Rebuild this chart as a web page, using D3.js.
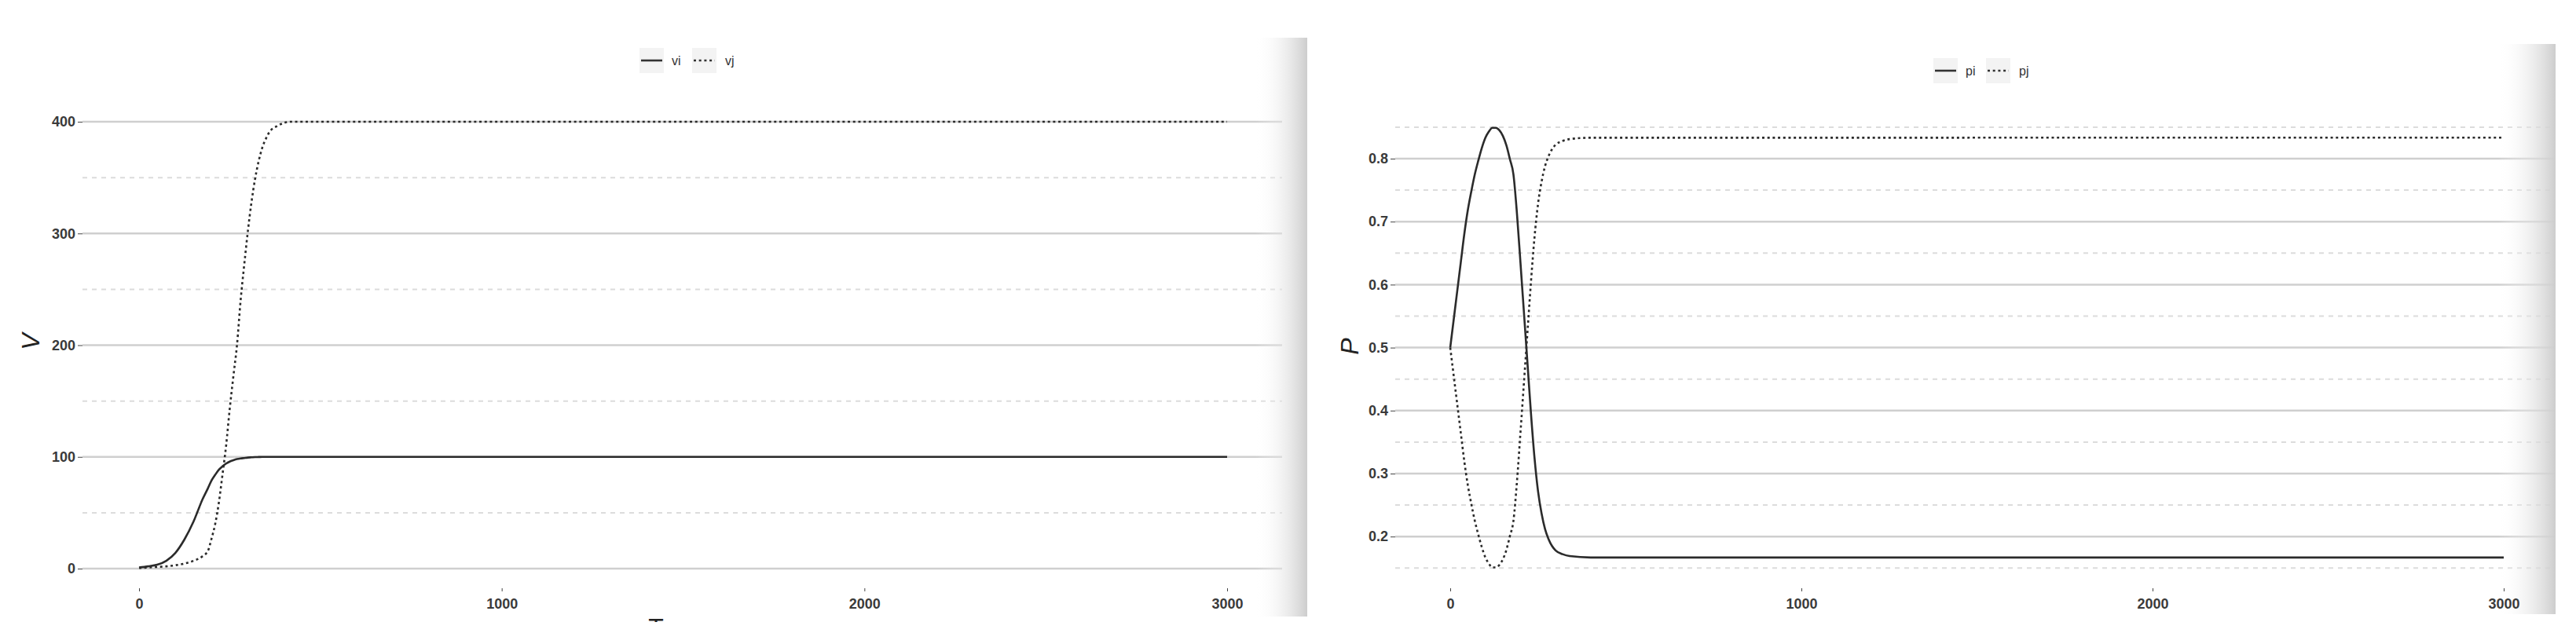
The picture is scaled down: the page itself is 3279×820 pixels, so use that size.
<!DOCTYPE html>
<html>
<head>
<meta charset="utf-8">
<script src="https://cdn.jsdelivr.net/npm/d3@7"></script>
<style>
  body { margin: 0; background: #fff; }
  svg { display: block; font-family: "Liberation Sans", Arial, sans-serif; }
  .tick text { fill: #3a3a3a; font-weight: bold; }
  .tick line { stroke: #444; }
</style>
</head>
<body>
<script>

// left panel: V over time
var timeV = [0, 25, 50, 75, 100, 125, 150, 175, 190, 200, 210, 220, 230, 240, 250, 260,
             270, 280, 290, 300, 310, 320, 330, 340, 350, 360, 380, 400, 420, 500, 3000];
var vi = [1, 2, 3.5, 7, 14, 26, 42, 62, 72, 79, 84, 88.5, 91.5, 94, 95.8, 97,
          98, 98.6, 99, 99.4, 99.6, 99.8, 99.9, 100, 100, 100, 100, 100, 100, 100, 100];
var vj = [0.5, 1, 1.5, 2, 3, 4.5, 7, 11, 16, 27, 40, 59, 84, 110, 143, 172,
          200, 240, 272, 302, 328, 349, 365, 377, 385, 391, 396, 399, 400, 400, 400];

// right panel: P over time
var timeP = [0, 10, 20, 30, 40, 50, 60, 70, 80, 90, 100, 110, 120, 130, 140, 150,
             160, 170, 180, 190, 200, 210, 220, 230, 240, 250, 260, 270, 280, 290, 300,
             320, 340, 400, 3000];
var pi = [0.500, 0.545, 0.590, 0.635, 0.680, 0.718, 0.748, 0.775, 0.797, 0.817, 0.833,
          0.843, 0.849, 0.849, 0.845, 0.836, 0.821, 0.799, 0.775, 0.713, 0.635, 0.555,
          0.475, 0.395, 0.325, 0.272, 0.237, 0.212, 0.196, 0.185, 0.178,
          0.172, 0.169, 0.1668, 0.1667];
var pj = [0.500, 0.455, 0.410, 0.365, 0.320, 0.282, 0.252, 0.225, 0.203, 0.183, 0.167,
          0.157, 0.151, 0.151, 0.155, 0.164, 0.179, 0.201, 0.225, 0.287, 0.365, 0.445,
          0.525, 0.605, 0.675, 0.728, 0.763, 0.788, 0.804, 0.815, 0.822,
          0.828, 0.831, 0.8332, 0.8333];

var xTicks = [0, 1000, 2000, 3000];
var vTicks = [0, 100, 200, 300, 400];
var vMinor = [50, 150, 250, 350];
var pTicks = [0.2, 0.3, 0.4, 0.5, 0.6, 0.7, 0.8];
var pMinor = [0.15, 0.25, 0.35, 0.45, 0.55, 0.65, 0.75, 0.85];

var svg = d3.select("body").append("svg")
  .attr("width", 3279)
  .attr("height", 820);

svg.append("rect").attr("width", 3279).attr("height", 820).attr("fill", "#fff");

var defs = svg.append("defs");
var grad = defs.append("linearGradient").attr("id", "shade");
grad.append("stop").attr("offset", "0%").attr("stop-color", "#fff").attr("stop-opacity", 0);
grad.append("stop").attr("offset", "100%").attr("stop-color", "#cdcdcd").attr("stop-opacity", 1);

function drawPanel(p) {

  var g = svg.append("g").attr("clip-path", "url(#" + p.id + "-clip)");
  defs.append("clipPath").attr("id", p.id + "-clip")
    .append("rect")
    .attr("x", p.clip[0]).attr("y", 0)
    .attr("width", p.clip[1] - p.clip[0]).attr("height", p.clip[2]);

  var x = d3.scaleLinear().domain([0, 3000]).range(p.xRange);
  var y = d3.scaleLinear().domain(p.yDomain).range(p.yRange);

  // gridlines: major solid, minor dashed
  g.append("g").selectAll("line").data(p.minor).enter().append("line")
    .attr("x1", p.grid[0]).attr("x2", p.grid[1])
    .attr("y1", y).attr("y2", y)
    .attr("stroke", "#dcdcdc").attr("stroke-width", 2)
    .attr("stroke-dasharray", "6,6");

  g.append("g").selectAll("line").data(p.major).enter().append("line")
    .attr("x1", p.grid[0]).attr("x2", p.grid[1])
    .attr("y1", y).attr("y2", y)
    .attr("stroke", "#cfcfcf").attr("stroke-width", 2.5);

  // right-edge shadow of the scanned page
  g.append("rect")
    .attr("x", p.shade[0]).attr("y", p.shade[2])
    .attr("width", p.shade[1] - p.shade[0]).attr("height", p.shade[3] - p.shade[2])
    .attr("fill", "url(#shade)");

  var yAxis = d3.axisLeft(y)
    .tickValues(p.major)
    .tickSize(6)
    .tickPadding(3)
    .tickFormat(p.fmt);

  g.append("g")
    .attr("class", "y axis")
    .attr("transform", "translate(" + p.grid[0] + ",0)")
    .call(yAxis)
    .call(function(s) { s.select(".domain").remove(); })
    .selectAll("text").style("font-size", "18px");

  var xAxis = d3.axisBottom(x)
    .tickValues(xTicks)
    .tickSize(4)
    .tickPadding(9)
    .tickFormat(d3.format("d"));

  g.append("g")
    .attr("class", "x axis")
    .attr("transform", "translate(0," + p.xAxisY + ")")
    .call(xAxis)
    .call(function(s) { s.select(".domain").remove(); })
    .selectAll("text").style("font-size", "18px");

  var line = d3.line()
    .x(function(d) { return x(d[0]); })
    .y(function(d) { return y(d[1]); })
    .curve(d3.curveMonotoneX);

  g.append("path")
    .datum(p.time.map(function(t, i) { return [t, p.s1[i]]; }))
    .attr("d", line)
    .attr("fill", "none").attr("stroke", "#2b2b2b").attr("stroke-width", 2.6);

  g.append("path")
    .datum(p.time.map(function(t, i) { return [t, p.s2[i]]; }))
    .attr("d", line)
    .attr("fill", "none").attr("stroke", "#2b2b2b").attr("stroke-width", 2.6)
    .attr("stroke-dasharray", "3,3.7");

  // axis titles
  g.append("text")
    .attr("transform", "translate(" + p.yTitle[0] + "," + p.yTitle[1] + ") rotate(-90)")
    .attr("text-anchor", "middle")
    .style("font-size", "32px")
    .style("font-style", "italic")
    .attr("fill", "#222")
    .text(p.yLabel);

  g.append("text")
    .attr("x", p.xTitle[0]).attr("y", p.xTitle[1])
    .attr("text-anchor", "middle")
    .style("font-size", "32px")
    .attr("fill", "#222")
    .text("T");

  // legend
  var lg = g.append("g").attr("transform", "translate(" + p.legend[0] + "," + p.legend[1] + ")");
  lg.append("rect").attr("x", 0).attr("y", -16).attr("width", 31).attr("height", 32).attr("fill", "#f3f3f3");
  lg.append("rect").attr("x", 67).attr("y", -16).attr("width", 31).attr("height", 32).attr("fill", "#f3f3f3");
  lg.append("line").attr("x1", 2).attr("x2", 29).attr("y1", 0).attr("y2", 0)
    .attr("stroke", "#333").attr("stroke-width", 2.6);
  lg.append("line").attr("x1", 69).attr("x2", 96).attr("y1", 0).attr("y2", 0)
    .attr("stroke", "#333").attr("stroke-width", 2.6).attr("stroke-dasharray", "3,3.7");
  lg.append("text").attr("x", 41).attr("y", 6).style("font-size", "16px").attr("fill", "#333").text(p.names[0]);
  lg.append("text").attr("x", 109).attr("y", 6).style("font-size", "16px").attr("fill", "#333").text(p.names[1]);
}

drawPanel({
  id: "left",
  clip: [0, 1664, 792],
  xRange: [177, 1562],
  yDomain: [0, 400], yRange: [724, 155],
  grid: [105, 1632],
  major: vTicks, minor: vMinor,
  fmt: d3.format("d"),
  shade: [1598, 1664, 48, 785],
  xAxisY: 749,
  time: timeV, s1: vi, s2: vj,
  yLabel: "V", yTitle: [50, 435],
  xTitle: [835, 810],
  legend: [814, 77], names: ["vi", "vj"]
});

drawPanel({
  id: "right",
  clip: [1664, 3279, 782],
  xRange: [1846, 3187],
  yDomain: [0.2, 0.8], yRange: [683.2, 202],
  grid: [1776, 3253],
  major: pTicks, minor: pMinor,
  fmt: d3.format(".1f"),
  shade: [3180, 3253, 56, 782],
  xAxisY: 749,
  time: timeP, s1: pi, s2: pj,
  yLabel: "P", yTitle: [1729, 441],
  xTitle: [2515, 810],
  legend: [2461, 90], names: ["pi", "pj"]
});

</script>
</body>
</html>
